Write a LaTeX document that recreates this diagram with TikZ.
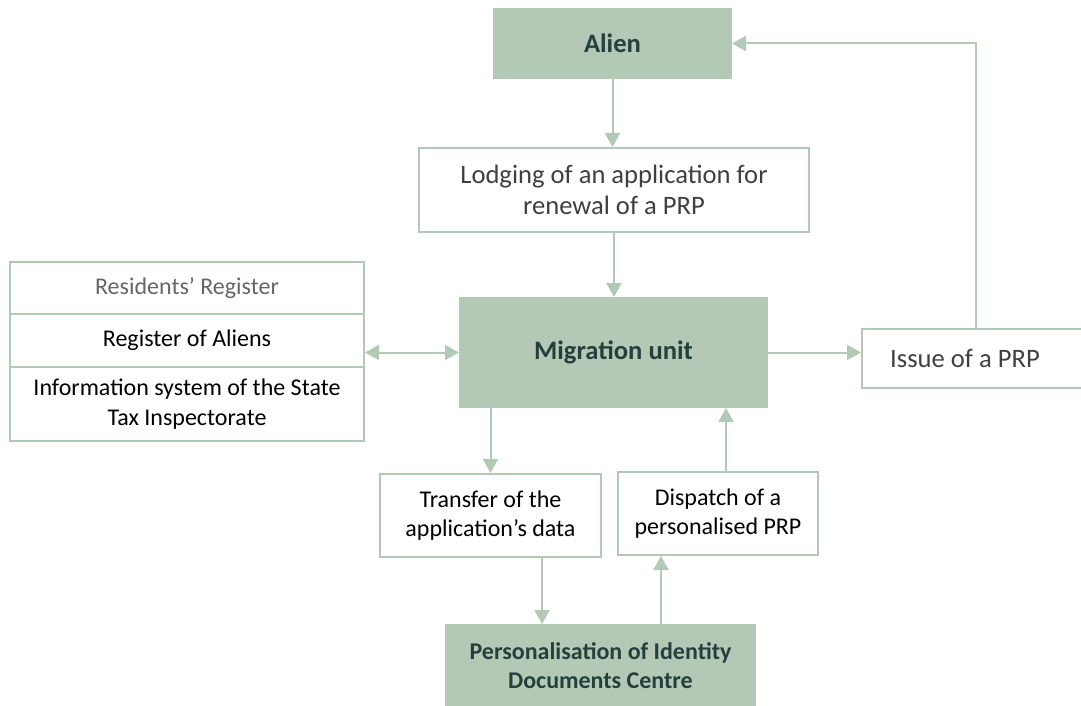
\documentclass[tikz,border=0pt]{standalone}
\usepackage{fontspec}
\setmainfont{Carlito}
\usetikzlibrary{arrows.meta}
\definecolor{boxgreen}{HTML}{B2CAB5}
\definecolor{darktext}{HTML}{263F3D}
\definecolor{greytext}{HTML}{404040}
\newcommand{\bigtext}{\fontsize{13.3}{15.6}\selectfont}
\tikzset{
  box/.style={draw=boxgreen, line width=1pt, minimum width=#1, inner sep=2pt,
              align=center, font=\fontsize{12}{14.6}\selectfont},
  box/.default=100pt,
  greenbox/.style={box=#1, fill=boxgreen, text=darktext, font=\fontsize{12}{14.6}\selectfont\bfseries},
  whitebox/.style={box=#1, fill=white},
  arr/.style={draw=boxgreen, line width=1pt, -{Triangle[length=7pt, width=7.5pt]}},
  dblarr/.style={arr, {Triangle[length=7pt, width=7.5pt]}-{Triangle[length=7pt, width=7.5pt]}},
}
\begin{document}
\begin{tikzpicture}[x=0.5pt, y=-0.5pt]
  \useasboundingbox (0,0) rectangle (1081,706);
  \clip (0,0) rectangle (1081,706);
  % top
  \node[greenbox=118.5pt, minimum height=34.5pt, font=\bigtext\bfseries] (alien) at (612.5,43.5) {Alien};
  \node[whitebox=195pt, minimum height=42pt, text=greytext, font=\bigtext] (lodge) at (614,190)
    {Lodging of an application for\\renewal of a PRP};
  % centre row
  \node[greenbox=153.5pt, minimum height=54.5pt, font=\bigtext\bfseries] (mig) at (613.5,352.5) {Migration unit};
  \node[whitebox=177pt, minimum height=26pt, text=greytext!80] (resreg) at (187,288) {Residents’ Register};
  \node[whitebox=177pt, minimum height=26.5pt] (alreg) at (187,340.5) {Register of Aliens};
  \node[whitebox=177pt, minimum height=37pt] (taxsys) at (187,404)
    {Information system of the State\\Tax Inspectorate};
  \node[whitebox=114pt, minimum height=29.5pt, text=greytext, font=\bigtext] (issue) at (976,358.5)
    {Issue of a PRP\hspace*{11pt}};
  % bottom
  \node[whitebox=110.5pt, minimum height=41.5pt] (xfer) at (490.5,515.5)
    {Transfer of the\\application’s data};
  \node[whitebox=100pt, minimum height=41.5pt] (disp) at (718,513.5)
    {Dispatch of a\\personalised PRP};
  \node[greenbox=154.5pt, minimum height=41pt] (pers) at (600.5,666)
    {Personalisation of Identity\\Documents Centre};
  % connectors
  \draw[arr] (alien.south) -- (alien.south |- lodge.north);
  \draw[arr] (lodge.south) -- (lodge.south |- mig.north);
  \draw[dblarr] (mig.west -| alreg.east) -- (mig.west);
  \draw[arr] (mig.east) -- (mig.east -| issue.west);
  \draw[arr] (issue.north) |- (alien.east);
  \draw[arr] (mig.south -| xfer.north) -- (xfer.north);
  \draw[arr] ([xshift=25.75pt]xfer.south) -- ([xshift=25.75pt]xfer.south |- pers.north);
  \draw[arr] ([xshift=-28.5pt]disp.south |- pers.north) -- ([xshift=-28.5pt]disp.south);
  \draw[arr] ([xshift=4pt]disp.north) -- ([xshift=4pt]disp.north |- mig.south);
\end{tikzpicture}
\end{document}
